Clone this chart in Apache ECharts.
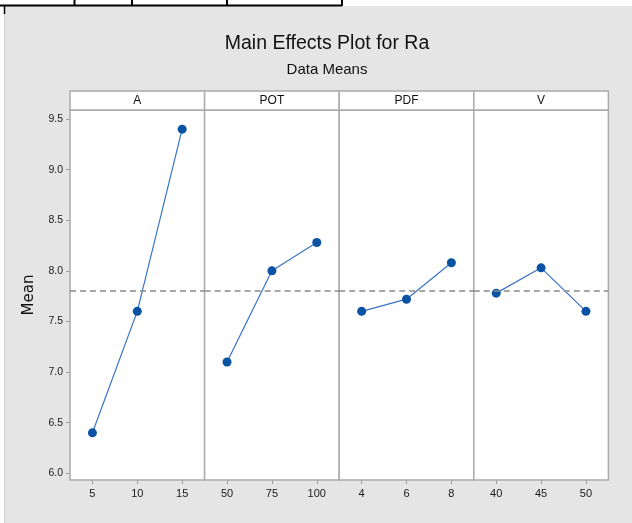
<!DOCTYPE html>
<html>
<head>
<meta charset="utf-8">
<script src="https://cdn.jsdelivr.net/npm/echarts@6/dist/echarts.min.js"></script>
<style>
html,body{margin:0;padding:0;background:#fff;}
#c{width:632px;height:523px;}
</style>
</head>
<body>
<div id="c"></div>
<script>
// ---- data ----
const factors = ['A', 'POT', 'PDF', 'V'];
const levelsA = ['5', '10', '15'];
const levelsPOT = ['50', '75', '100'];
const levelsPDF = ['4', '6', '8'];
const levelsV = ['40', '45', '50'];
const meansA = [6.40, 7.60, 9.40];
const meansPOT = [7.10, 8.00, 8.28];
const meansPDF = [7.60, 7.72, 8.08];
const meansV = [7.78, 8.03, 7.60];
const grandMean = 7.80;
const yTicks = [6.0, 6.5, 7.0, 7.5, 8.0, 8.5, 9.0, 9.5];
const yMin = 5.934, yMax = 9.589;

const levels = [levelsA, levelsPOT, levelsPDF, levelsV];
const means = [meansA, meansPOT, meansPDF, meansV];

const FONT = "sans-serif";
const plotLeft = 70, plotTop = 110, plotH = 370, panelW = 134.6;

const grids = [], xAxes = [], yAxes = [], series = [], graphics = [];

// background elements
graphics.push({type:'rect', shape:{x:5, y:6, width:627, height:517}, style:{fill:'#e5e5e5'}, z:-10});
graphics.push({type:'line', shape:{x1:0, y1:5.5, x2:342, y2:5.5}, style:{stroke:'#000', lineWidth:2}});
[74.5, 132, 227, 342].forEach(x => graphics.push({type:'line', shape:{x1:x, y1:0, x2:x, y2:6}, style:{stroke:'#000', lineWidth:2}}));
graphics.push({type:'line', shape:{x1:4.5, y1:5, x2:4.5, y2:14}, style:{stroke:'#000', lineWidth:1.5}});
graphics.push({type:'line', shape:{x1:4.5, y1:14, x2:4.5, y2:523}, style:{stroke:'#cfcfcf', lineWidth:1}});

factors.forEach((f, i) => {
  const left = plotLeft + i * panelW;
  grids.push({left: left, top: plotTop, width: panelW, height: plotH, show: true,
    backgroundColor: '#ffffff', borderColor: '#ababab', borderWidth: 1.5});
  xAxes.push({type: 'category', gridIndex: i, data: levels[i], boundaryGap: true,
    axisLine: {show: false},
    axisTick: {show: true, alignWithLabel: true, length: 4, lineStyle: {color: '#a0a0a0'}},
    axisLabel: {color: '#1a1a1a', fontSize: 11, fontFamily: FONT, margin: 8}});
  yAxes.push({type: 'value', gridIndex: i, min: yMin, max: yMax,
    splitLine: {show: false}, axisLine: {show: false},
    axisTick: {show: i === 0, length: 4, lineStyle: {color: '#a0a0a0'}, customValues: yTicks},
    axisLabel: {show: i === 0, color: '#1a1a1a', fontSize: 10.5, fontFamily: FONT, margin: 7,
      customValues: yTicks, formatter: v => v.toFixed(1)},
    name: i === 0 ? 'Mean' : '', nameLocation: 'middle', nameGap: 33, nameRotate: 90,
    nameTextStyle: {fontSize: 15, fontFamily: "'DejaVu Sans', sans-serif", color: '#111'}});
  series.push({type: 'line', xAxisIndex: i, yAxisIndex: i, data: means[i],
    symbol: 'circle', symbolSize: 9,
    itemStyle: {color: '#0a52a3'},
    lineStyle: {color: '#3a73c4', width: 1.2},
    markLine: {silent: true, symbol: 'none', label: {show: false},
      lineStyle: {color: '#8a8a8a', type: [6, 4], width: 1.5},
      data: [{yAxis: grandMean}]},
    z: 3});
  // header strip
  graphics.push({type: 'rect', shape: {x: left, y: 91, width: panelW, height: 19},
    style: {fill: '#ffffff', stroke: '#ababab', lineWidth: 1.5}, z: 5});
  graphics.push({type: 'text', x: left + panelW / 2, y: 100.5,
    style: {text: f, fill: '#111', font: '12px ' + FONT, textAlign: 'center', textVerticalAlign: 'middle'}, z: 6});
});

const chart = echarts.init(document.getElementById('c'), null, {renderer: 'canvas'});
chart.setOption({
  backgroundColor: '#ffffff',
  animation: false,
  title: [
    {text: 'Main Effects Plot for Ra', left: 322, top: 29, textAlign: 'center',
      textStyle: {fontSize: 19.5, fontWeight: 'normal', color: '#111', fontFamily: FONT}},
    {text: 'Data Means', left: 322, top: 57, textAlign: 'center',
      textStyle: {fontSize: 15, fontWeight: 'normal', color: '#111', fontFamily: FONT}}
  ],
  grid: grids, xAxis: xAxes, yAxis: yAxes, series: series,
  graphic: graphics
});
</script>
</body>
</html>
